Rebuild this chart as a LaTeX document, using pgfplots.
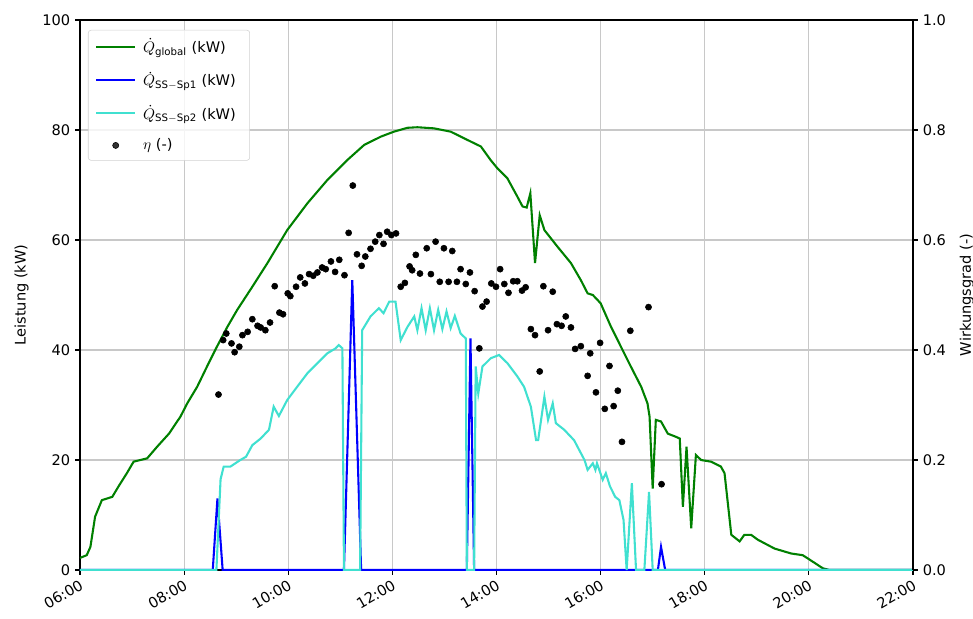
\documentclass[border=0pt]{standalone}
\usepackage{fontspec}
\setmainfont{DejaVu Sans}
\usepackage{amsmath}
\usepackage{pgfplots}
\usepackage{pgfplotstable}
\pgfplotsset{compat=1.18}
\definecolor{qglobal}{RGB}{0,128,0}
\definecolor{qsp1}{RGB}{0,0,255}
\definecolor{qsp2}{RGB}{64,224,208}
\definecolor{gridc}{RGB}{200,200,200}
\definecolor{legc}{RGB}{210,210,210}

\pgfplotstableread{
t q
6.00 2.2
6.13 2.7
6.20 4.2
6.29 9.7
6.42 12.7
6.62 13.3
6.74 15.2
6.90 17.6
7.03 19.7
7.29 20.3
7.48 22.4
7.71 24.8
7.93 27.9
8.06 30.3
8.25 33.3
8.44 37.0
8.63 40.6
8.83 44.2
9.02 47.3
9.31 51.5
9.60 55.8
9.98 61.8
10.37 66.7
10.75 70.9
11.13 74.5
11.46 77.3
11.78 78.8
12.03 79.7
12.29 80.4
12.48 80.5
12.80 80.3
13.12 79.7
13.44 78.2
13.70 77.0
13.89 74.5
14.02 73.0
14.21 71.2
14.40 67.9
14.50 66.1
14.58 65.9
14.65 68.5
14.74 55.8
14.83 64.5
14.92 61.8
15.17 58.8
15.43 55.8
15.62 52.7
15.75 50.3
15.85 50.0
16.00 48.5
16.20 44.2
16.39 40.6
16.58 37.0
16.78 33.3
16.90 30.3
16.94 27.9
17.00 14.8
17.06 27.3
17.16 27.0
17.29 24.8
17.45 24.2
17.52 23.9
17.58 11.5
17.65 22.4
17.74 7.6
17.83 20.9
17.93 20.0
18.12 19.7
18.31 18.8
18.38 17.6
18.51 6.4
18.67 5.2
18.76 6.4
18.89 6.4
19.02 5.5
19.34 3.9
19.66 3.0
19.88 2.7
19.98 2.1
20.27 0.3
20.40 0
22.00 0
}\globaltab

\pgfplotstableread{
t q
6.00 0
8.55 0
8.64 13.0
8.74 0
11.07 0
11.23 52.7
11.40 0
13.43 0
13.50 42.1
13.57 0
17.10 0
17.16 4.2
17.24 0
22.00 0
}\spone

\pgfplotstableread{
t q
6.00 0
8.62 0
8.70 16.5
8.76 18.8
8.89 18.8
9.08 20.0
9.19 20.6
9.31 22.7
9.47 23.9
9.63 25.5
9.72 29.7
9.82 28.0
9.98 30.9
10.17 33.3
10.37 35.8
10.56 37.6
10.75 39.4
10.91 40.3
10.97 40.9
11.04 40.3
11.07 0
11.38 0
11.42 43.6
11.58 46.1
11.74 47.6
11.83 46.7
11.94 48.8
12.06 48.8
12.16 41.8
12.29 44.2
12.42 46.1
12.48 43.6
12.56 47.6
12.64 43.6
12.72 47.6
12.80 43.6
12.88 47.3
12.96 43.8
13.04 47.0
13.12 44.0
13.20 46.2
13.31 43.0
13.41 42.1
13.43 0
13.57 0
13.60 37.0
13.65 32.1
13.73 37.0
13.89 38.5
14.05 39.1
14.21 37.6
14.40 35.2
14.53 33.3
14.66 29.7
14.76 23.6
14.80 23.6
14.92 31.5
14.99 27.3
15.08 30.3
15.14 26.7
15.30 25.5
15.49 23.6
15.69 20.0
15.75 18.2
15.85 19.4
15.90 18.2
15.93 19.4
16.04 16.4
16.10 17.6
16.18 15.2
16.28 13.3
16.36 12.7
16.44 9.1
16.50 0
16.60 15.8
16.68 0
16.84 0
16.93 14.2
17.00 0
22.00 0
}\sptwo

\pgfplotstableread{
t eta
8.66 0.319
8.75 0.418
8.81 0.430
8.91 0.412
8.97 0.396
9.06 0.406
9.12 0.427
9.22 0.433
9.31 0.456
9.41 0.444
9.47 0.441
9.56 0.436
9.65 0.450
9.74 0.516
9.83 0.468
9.90 0.465
9.99 0.503
10.04 0.498
10.15 0.515
10.23 0.532
10.32 0.521
10.40 0.538
10.48 0.535
10.56 0.541
10.65 0.550
10.72 0.547
10.82 0.561
10.90 0.542
10.98 0.564
11.08 0.536
11.16 0.613
11.24 0.699
11.32 0.574
11.41 0.553
11.48 0.570
11.58 0.584
11.67 0.597
11.75 0.609
11.83 0.593
11.90 0.615
11.98 0.609
12.07 0.612
12.16 0.515
12.24 0.522
12.33 0.552
12.38 0.545
12.45 0.573
12.53 0.539
12.66 0.585
12.74 0.538
12.83 0.597
12.91 0.524
12.99 0.585
13.08 0.524
13.15 0.580
13.24 0.524
13.31 0.547
13.41 0.520
13.49 0.541
13.58 0.507
13.67 0.403
13.73 0.479
13.81 0.488
13.90 0.521
13.99 0.515
14.07 0.547
14.15 0.520
14.23 0.504
14.32 0.525
14.40 0.525
14.49 0.508
14.56 0.514
14.66 0.438
14.74 0.427
14.83 0.361
14.90 0.516
14.99 0.436
15.08 0.506
15.16 0.447
15.25 0.444
15.33 0.461
15.43 0.441
15.51 0.402
15.62 0.407
15.75 0.353
15.80 0.394
15.91 0.323
15.99 0.413
16.08 0.293
16.17 0.371
16.25 0.298
16.33 0.326
16.41 0.233
16.57 0.435
16.92 0.478
17.17 0.156
}\etatab

\begin{document}
\begin{tikzpicture}
\pgfplotsset{
  every axis/.append style={
    scale only axis, width=599.76pt, height=396pt,
    xmin=6, xmax=22,
    tick align=outside, major tick length=3.5pt,
    every tick/.style={black, line width=0.8pt},
    axis line style={line width=0.8pt},
    /pgf/number format/assume math mode=true,
    tick label style={font=\fontsize{10.5}{12.5}\selectfont},
    label style={font=\fontsize{10.5}{12.5}\selectfont},
  },
}
\begin{axis}[name=ax,
  ymin=0, ymax=100,
  xtick={6,8,...,22},
  xticklabels={06:00,08:00,10:00,12:00,14:00,16:00,18:00,20:00,22:00},
  xticklabel style={rotate=30, anchor=north east, inner sep=2pt},
  ytick={0,20,...,100},
  xtick pos=left, ytick pos=left,
  grid=major, major grid style={gridc, line width=0.8pt},
  ylabel={Leistung (kW)},
  ylabel style={yshift=3pt},
]
\addplot[qglobal, line width=1.5pt] table[x=t, y=q] {\globaltab};
\addplot[qsp1, line width=1.5pt] table[x=t, y=q] {\spone};
\addplot[qsp2, line width=1.5pt] table[x=t, y=q] {\sptwo};
\end{axis}
\begin{axis}[
  axis x line=none, axis y line*=right,
  ymin=0, ymax=1,
  ytick={0,0.2,0.4,0.6,0.8,1.0},
  yticklabels={0.0,0.2,0.4,0.6,0.8,1.0},
  ylabel={Wirkungsgrad (-)},
  ylabel style={yshift=-3pt},
  legend image code/.code={\draw[mark repeat=2,mark phase=2,#1] plot coordinates {(0pt,0pt) (14pt,0pt) (28pt,0pt)};},
  legend style={at={(0.0096,0.982)}, anchor=north west, draw=legc, rounded corners=2pt,
    fill=white, fill opacity=0.8, text opacity=1, font=\fontsize{10.5}{12.5}\selectfont,
    row sep=8.5pt, inner xsep=5pt, inner ysep=4pt,
    nodes={inner xsep=5pt}},
  legend cell align=left,
]
\addlegendimage{qglobal, line width=1.5pt}
\addlegendentry{$\dot{Q}_{\text{global}}$ (kW)}
\addlegendimage{qsp1, line width=1.5pt}
\addlegendentry{$\dot{Q}_{\text{SS}-\text{Sp1}}$ (kW)}
\addlegendimage{qsp2, line width=1.5pt}
\addlegendentry{$\dot{Q}_{\text{SS}-\text{Sp2}}$ (kW)}
\addplot[only marks, mark=*, mark size=2.2pt, black] table[x=t, y=eta] {\etatab};
\addlegendentry{$\eta$ (-)}
\end{axis}
\pgfresetboundingbox
\path[use as bounding box] ([shift={(-57.6pt,-34.56pt)}]ax.south west) rectangle ([shift={(642.96pt,410.4pt)}]ax.south west);
\end{tikzpicture}
\end{document}
